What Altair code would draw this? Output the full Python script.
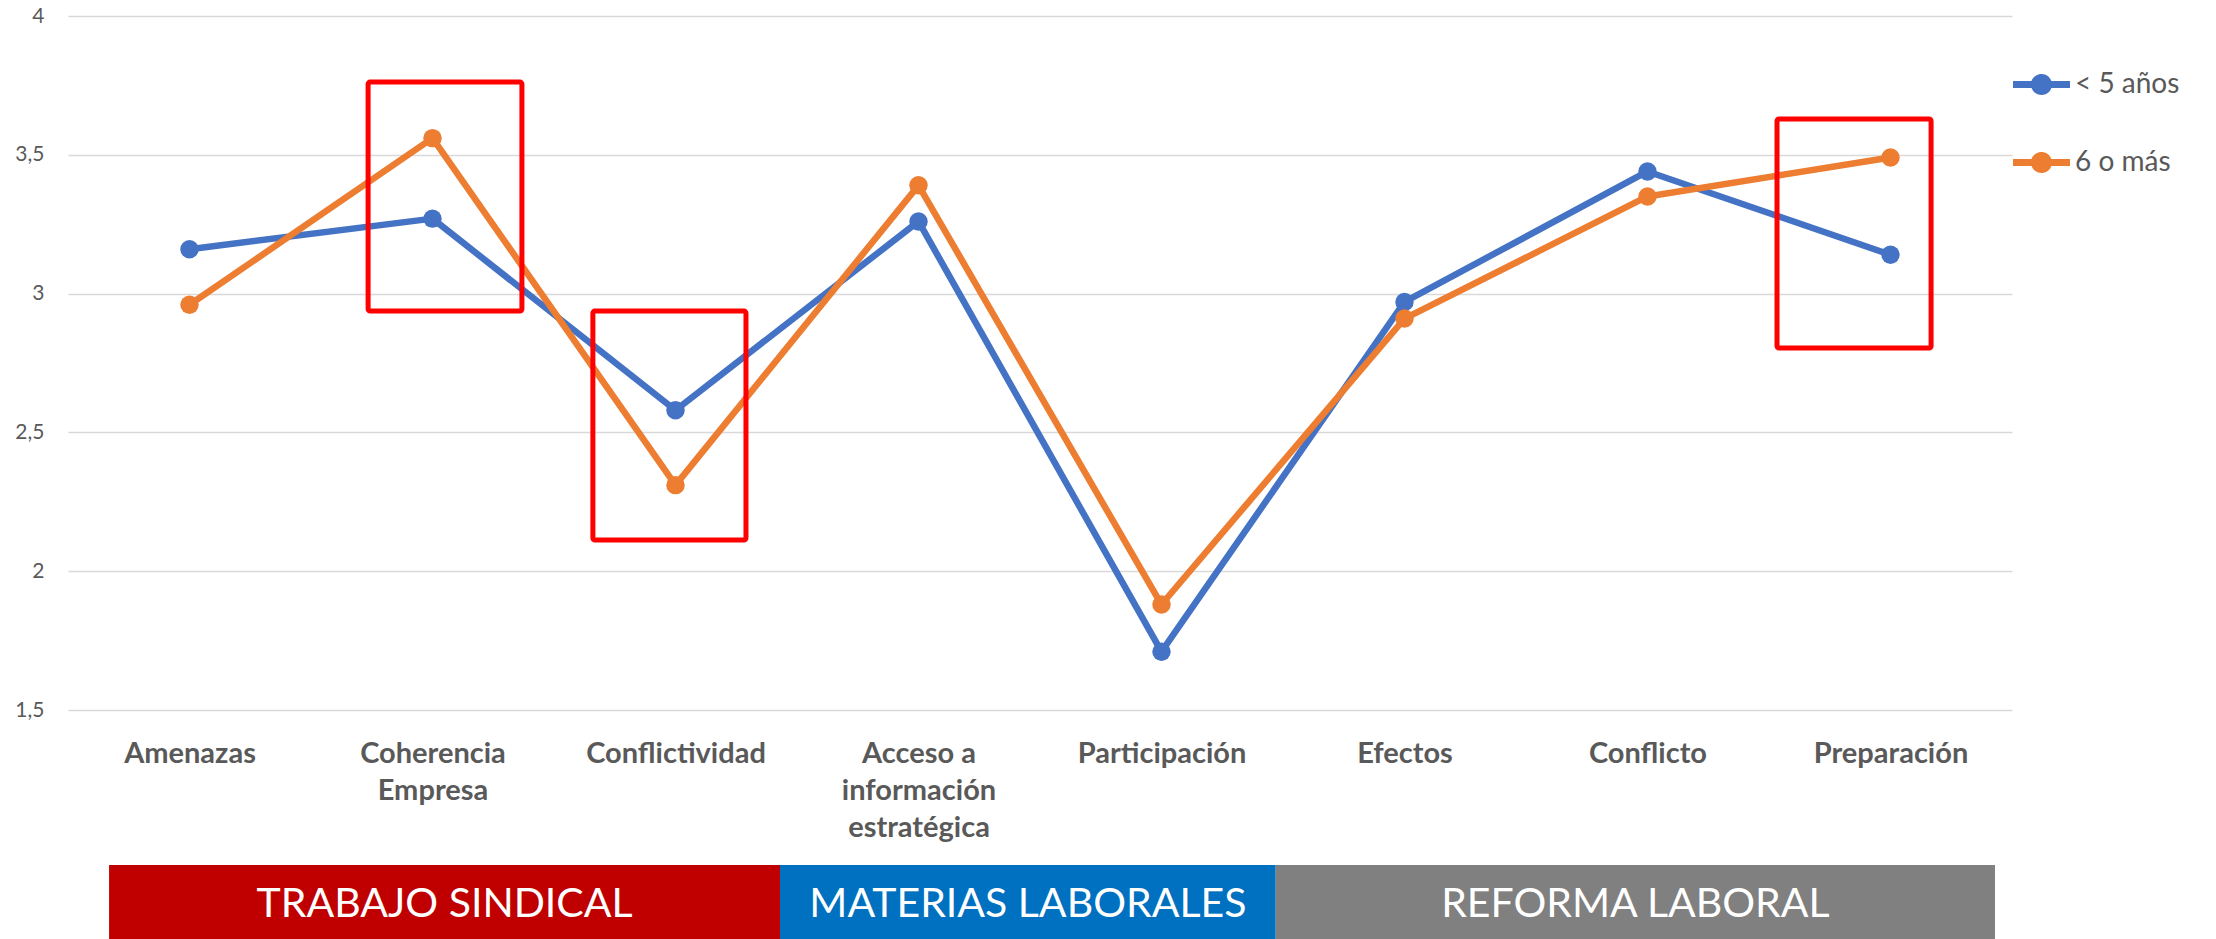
import json
import altair as alt
import pandas as pd

# ---------------- data ----------------
categories = ["Amenazas", "Coherencia Empresa", "Conflictividad",
              "Acceso a información estratégica", "Participación",
              "Efectos", "Conflicto", "Preparación"]
label_lines = {
    "Coherencia Empresa": ["Coherencia", "Empresa"],
    "Acceso a información estratégica": ["Acceso a", "información", "estratégica"],
}
series_names = ["< 5 años", "6 o más"]
menos_5 = [3.16, 3.27, 2.58, 3.26, 1.71, 2.97, 3.44, 3.14]
seis_mas = [2.96, 3.56, 2.31, 3.39, 1.88, 2.91, 3.35, 3.49]
series_colors = ["#4472C4", "#ED7D31"]

# highlight boxes (x in category-index units 0..8, y in value units)
box_x0 = [1.235, 2.160, 7.033]
box_x1 = [1.868, 2.790, 7.667]
box_y0 = [2.937, 2.112, 2.804]
box_y1 = [3.762, 2.937, 3.629]

# group bands below the axis (category-index units)
groups = ["TRABAJO SINDICAL", "MATERIAS LABORALES", "REFORMA LABORAL"]
group_start = [0.169, 2.93, 4.97]
group_end = [2.93, 4.97, 7.93]
group_colors = ["#C00000", "#0070C0", "#808080"]

y_ticks = [1.5, 2, 2.5, 3, 3.5, 4]

# ---------------- tables ----------------
rows = []
for name, vals in zip(series_names, [menos_5, seis_mas]):
    for c, v in zip(categories, vals):
        rows.append({"categoria": c, "serie": name, "valor": v})
df = pd.DataFrame(rows)

box_df = pd.DataFrame({"x0": box_x0, "x1": box_x1, "y0": box_y0, "y1": box_y1})
group_df = pd.DataFrame({"grupo": groups, "start": group_start,
                         "end": group_end, "color": group_colors})

label_expr = " : ".join(
    f"datum.value == {json.dumps(k, ensure_ascii=False)} ? {json.dumps(v, ensure_ascii=False)}"
    for k, v in label_lines.items()
) + " : datum.label"

FONT = "Lato"
TXT = "#595959"
W, H = 1944, 694

x_enc = alt.X("categoria:N", sort=categories, title=None,
              axis=alt.Axis(labelAngle=0, labelFont=FONT, labelFontWeight="bold",
                            labelFontSize=29, labelColor=TXT, labelLineHeight=37,
                            labelPadding=29, labelLimit=0, domain=False, ticks=False,
                            tickSize=0, grid=False, labelExpr=label_expr))
y_enc = alt.Y("valor:Q", scale=alt.Scale(domain=[1.5, 4], nice=False, zero=False),
              title=None,
              axis=alt.Axis(values=y_ticks, domain=False, ticks=False, tickSize=0,
                            labelPadding=24, labelFont=FONT, labelFontSize=21,
                            labelColor=TXT, grid=True, gridColor="#D9D9D9",
                            gridWidth=1.3,
                            labelExpr="replace(toString(datum.value), '.', ',')"))

legend_symbol = ("M-1,-0.12H-0.3V0.12H-1Z M0.3,-0.12H1V0.12H0.3Z "
                 "M-0.37,0A0.37,0.37,0,1,1,0.37,0A0.37,0.37,0,1,1,-0.37,0Z")

legend = alt.Legend(title=None, orient="none", legendX=1945, legendY=40,
                    symbolType=legend_symbol, symbolSize=3249, symbolStrokeWidth=0,
                    symbolOpacity=1, labelFont=FONT, labelFontSize=28,
                    labelColor=TXT, labelOffset=5, rowPadding=35, padding=0)
color_enc = alt.Color("serie:N", scale=alt.Scale(domain=series_names,
                                                 range=series_colors),
                      legend=legend)

lines = alt.Chart(df).mark_line(strokeWidth=6.5, strokeCap="round",
                                strokeJoin="round").encode(
    x=x_enc, y=y_enc, color=color_enc,
)
points = alt.Chart(df).mark_point(filled=True, size=340, opacity=1).encode(
    x=x_enc, y=y_enc, color=color_enc,
)
series_layer = alt.layer(lines, points)

boxes = alt.Chart(box_df).mark_rect(filled=False, color="#FF0000", strokeWidth=5,
                                    cornerRadius=2).encode(
    x=alt.X("x0:Q", scale=alt.Scale(domain=[0, 8], nice=False, zero=False), axis=None),
    x2="x1:Q",
    y=alt.Y("y0:Q", scale=alt.Scale(domain=[1.5, 4], nice=False, zero=False), axis=None),
    y2="y1:Q",
)

top = alt.layer(series_layer, boxes).resolve_scale(
    x="independent", y="independent").properties(width=W, height=H)

band_base = alt.Chart(group_df).properties(width=W, height=80)
band_rects = band_base.mark_rect().encode(
    x=alt.X("start:Q", scale=alt.Scale(domain=[0, 8], nice=False, zero=False), axis=None),
    x2="end:Q",
    color=alt.Color("color:N", scale=None),
)
band_text = band_base.transform_calculate(
    mid="(datum.start + datum.end) / 2"
).mark_text(font=FONT, fontSize=41, color="white", baseline="middle").encode(
    x=alt.X("mid:Q", scale=alt.Scale(domain=[0, 8], nice=False, zero=False), axis=None),
    text="grupo:N",
)
bands = alt.layer(band_rects, band_text)

chart = alt.vconcat(top, bands, spacing=155, bounds="flush").properties(
    padding={"left": 6, "top": -3, "right": 5, "bottom": 0},
    background="white",
).configure_view(stroke=None)

chart.save("out.html", embed_options={"renderer": "svg", "actions": False})
